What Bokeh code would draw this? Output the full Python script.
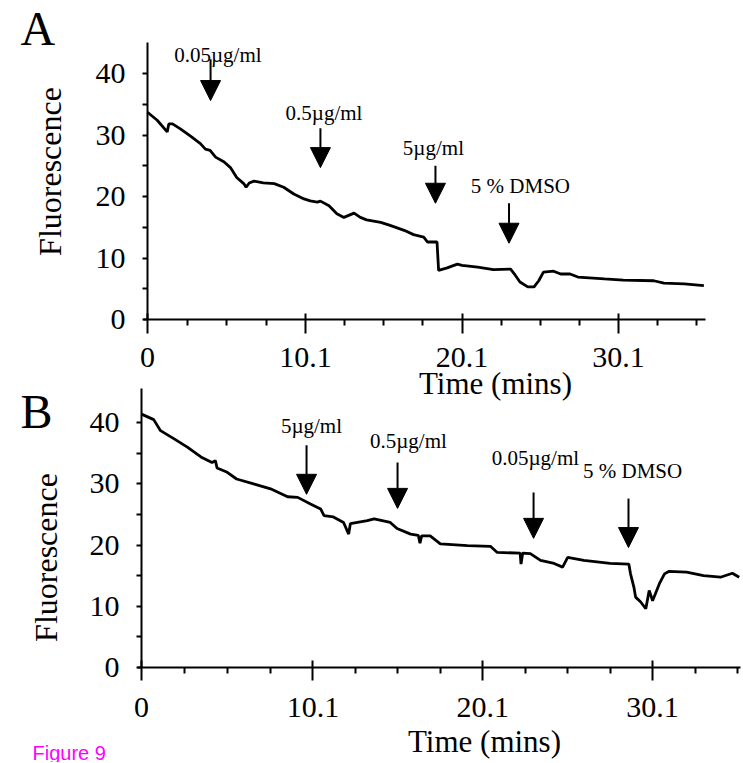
from bokeh.plotting import figure
from bokeh.models import (FixedTicker, Label, Arrow, NormalHead, ColumnDataSource, Range1d,
                          LinearAxis)
from bokeh.core.properties import value
from bokeh.embed import file_html
from bokeh.resources import INLINE

# ---------------- data ----------------
a_time = [0.0, 0.62, 1.26, 1.36, 1.6, 2.1, 2.75, 3.38, 3.7, 4.0, 4.35, 4.9, 5.3, 5.7,
          6.15, 6.3, 6.5, 6.8, 7.4, 8.1, 8.7, 9.35, 10.0, 10.4, 10.85, 11.05, 11.6,
          12.1, 12.55, 13.2, 13.6, 14.0, 14.9, 15.5, 16.4, 17.0, 17.65, 17.9, 18.5,
          18.6, 19.15, 19.8, 20.1, 21.1, 22.1, 23.2, 23.5, 23.8, 24.3, 24.7, 25.0,
          25.3, 25.95, 26.4, 27.0, 27.5, 29.2, 30.4, 32.35, 33.0, 34.3, 35.55]
a_fluor = [33.7, 32.4, 30.5, 31.8, 31.8, 31.0, 29.8, 28.6, 27.7, 27.5, 26.4, 25.6, 24.7, 23.1,
           22.1, 21.5, 22.2, 22.5, 22.2, 22.1, 21.5, 20.4, 19.6, 19.3, 19.1, 19.25, 18.5,
           17.2, 16.6, 17.3, 16.6, 16.2, 15.8, 15.3, 14.5, 13.8, 13.4, 12.6, 12.6,
           8.0, 8.4, 9.0, 8.8, 8.5, 8.1, 8.2, 7.2, 6.1, 5.3, 5.3, 6.3,
           7.7, 7.85, 7.4, 7.4, 6.9, 6.6, 6.4, 6.3, 5.9, 5.8, 5.5]

b_time = [0.0, 0.72, 1.12, 1.9, 2.7, 3.5, 4.15, 4.35, 4.45, 5.05, 5.6, 6.6, 7.6, 8.6, 9.2,
          9.95, 10.55, 10.75, 11.3, 11.9, 12.2, 12.3, 13.3, 13.7, 14.65, 15.05, 15.85,
          16.3, 16.4, 16.5, 17.0, 17.6, 19.2, 20.55, 20.95, 22.3, 22.35, 22.45, 22.9,
          23.5, 24.3, 24.8, 25.1, 26.05, 27.6, 28.7, 28.8, 29.0, 29.1, 29.4, 29.7,
          29.9, 30.1, 30.5, 30.8, 31.05, 32.1, 33.1, 34.1, 34.8, 35.2]
b_fluor = [41.4, 40.5, 38.7, 37.4, 36.0, 34.4, 33.5, 33.8, 32.6, 31.9, 30.8, 30.0, 29.2, 27.9, 27.8,
           26.7, 25.9, 24.8, 24.6, 23.7, 21.8, 23.5, 24.0, 24.3, 23.7, 22.7, 21.8,
           21.6, 20.3, 21.5, 21.5, 20.2, 19.9, 19.8, 18.8, 18.7, 16.9, 18.7, 18.6,
           17.5, 17.0, 16.4, 18.0, 17.5, 17.0, 16.9, 15.3, 13.1, 11.5, 10.7, 9.6,
           12.6, 10.9, 13.7, 15.3, 15.7, 15.6, 15.0, 14.75, 15.4, 14.75]

x_tick_values = [0, 10.1, 20.1, 30.1]
x_tick_labels = ["0", "10.1", "20.1", "30.1"]
x_minor_values = [2.525, 5.05, 7.575, 12.6, 15.1, 17.6, 22.6, 25.1, 27.6, 32.6, 35.1]
y_tick_values = [0, 10, 20, 30, 40]
y_minor_values = [5, 15, 25, 35]

a_notes = ["0.05\u00b5g/ml", "0.5\u00b5g/ml", "5\u00b5g/ml", "5 % DMSO"]
a_arrow_t = [4.03, 11.05, 18.4, 23.1]
a_arrow_top = [42.3, 31.1, 25.0, 18.9]
a_arrow_tip = [35.6, 24.7, 18.9, 12.4]
a_note_t = [4.5, 11.28, 18.27, 23.83]
a_note_y = [43.0, 33.56, 27.87, 21.7]

b_notes = ["5\u00b5g/ml", "0.5\u00b5g/ml", "0.05\u00b5g/ml", "5 % DMSO"]
b_arrow_t = [9.72, 15.08, 23.09, 28.68]
b_arrow_top = [36.3, 33.5, 28.6, 27.6]
b_arrow_tip = [28.3, 26.0, 21.1, 19.6]
b_note_t = [10.01, 15.72, 23.2, 28.92]
b_note_y = [39.4, 37.0, 34.2, 32.1]

SERIF = "Liberation Serif"
W, H = 742, 762

# ---------------- layout: pixel anchors of each panel ----------------
A_X0, A_XS, A_Y0, A_YS = 147, 15.65, 319, 6.15
B_X0, B_XS, B_Y0, B_YS = 141, 16.98, 667, 6.12


def a_x(px):
    return (px - A_X0) / A_XS


def a_y(py):
    return (A_Y0 - py) / A_YS


def b_x(px):
    return (px - B_X0) / B_XS


def b_y(py):
    return (B_Y0 - py) / B_YS


p = figure(width=W, height=H, x_range=Range1d(a_x(0), a_x(W)), y_range=Range1d(a_y(H), a_y(0)),
           output_backend="svg", toolbar_location=None, min_border=0)
p.extra_x_ranges = {"bx": Range1d(b_x(0), b_x(W))}
p.extra_y_ranges = {"by": Range1d(b_y(H), b_y(0))}
p.title.visible = False
p.outline_line_color = None
p.grid.visible = False
p.background_fill_color = "white"
p.border_fill_color = "white"

axA_x = p.xaxis[0]
axA_y = p.yaxis[0]
axB_x = LinearAxis(x_range_name="bx", y_range_name="by")
axB_y = LinearAxis(x_range_name="bx", y_range_name="by")
p.add_layout(axB_x, "below")
p.add_layout(axB_y, "left")

axA_x.bounds = (-0.25, 35.65)
axA_y.bounds = (0, 45)
axB_x.bounds = (-0.25, 35.3)
axB_y.bounds = (0, 45.6)

for ax in (axA_x, axA_y, axB_x, axB_y):
    ax.fixed_location = 0
    ax.axis_line_width = 2
    ax.axis_line_color = "black"
    ax.major_tick_line_width = 2
    ax.minor_tick_line_width = 2
    ax.major_tick_line_color = "black"
    ax.minor_tick_line_color = "black"
    ax.major_label_text_font = SERIF
    ax.major_label_text_font_size = "30px"
    ax.major_label_text_color = "black"
    ax.minor_tick_in = 0

for ax in (axA_x, axB_x):
    ax.ticker = FixedTicker(ticks=x_tick_values, minor_ticks=x_minor_values)
    ax.major_label_overrides = {v: s for v, s in zip(x_tick_values, x_tick_labels)}
    ax.minor_tick_out = 6
axA_x.major_tick_in, axA_x.major_tick_out, axA_x.major_label_standoff = 6, 14, 14
axB_x.major_tick_in, axB_x.major_tick_out, axB_x.major_label_standoff = 7, 13, 17

for ax in (axA_y, axB_y):
    ax.ticker = FixedTicker(ticks=y_tick_values, minor_ticks=y_minor_values)
    ax.major_tick_in = 0
    ax.major_tick_out = 5
    ax.minor_tick_out = 5
    ax.major_label_standoff = 17

# traces
p.line(a_time, a_fluor, line_color="black", line_width=2.8)
p.line(b_time, b_fluor, line_color="black", line_width=2.8, x_range_name="bx", y_range_name="by")


def add_notes(notes, nt, ny, at, atop, atip, **rn):
    src = ColumnDataSource(dict(t=nt, y=ny, text=notes))
    p.text(x="t", y="y", text="text", source=src, text_font=value(SERIF),
           text_font_size=value("21px"), text_align="center",
           text_baseline="alphabetic", text_color="black", **rn)
    asrc = ColumnDataSource(dict(t=at, top=atop, tip=atip))
    p.add_layout(Arrow(x_start="t", y_start="top", x_end="t", y_end="tip", source=asrc,
                       line_width=2, line_color="black",
                       end=NormalHead(size=20, fill_color="black", line_color="black",
                                      line_width=1), **rn))


add_notes(a_notes, a_note_t, a_note_y, a_arrow_t, a_arrow_top, a_arrow_tip)
add_notes(b_notes, b_note_t, b_note_y, b_arrow_t, b_arrow_top, b_arrow_tip,
          x_range_name="bx", y_range_name="by")


def label(text, px, py, size, align="left", angle=0.0, font=SERIF, color="black"):
    # the renderer draws the alphabetic baseline about 0.35 em lower than asked
    if angle == 0.0:
        py = py - 0.35 * size
    else:
        px = px - 0.35 * size
    p.add_layout(Label(x=a_x(px), y=a_y(py), text=text, text_font=font,
                       text_font_size=f"{size}px", text_align=align,
                       text_baseline="alphabetic", angle=angle, text_color=color))


# panel letters, axis titles, caption (positions in canvas pixels)
label("A", 20, 45, 48)
label("Fluorescence", 61, 171, 32, align="center", angle=1.5707963)
label("Time (mins)", 495, 394, 31, align="center")
label("B", 20, 428, 48)
label("Fluorescence", 57, 557, 32, align="center", angle=1.5707963)
label("Time (mins)", 484, 752, 31, align="center")
label("Figure 9", 32, 759, 20, font="Liberation Sans", color="#ff00ff")

open("out.html", "w").write(file_html(p, INLINE))
